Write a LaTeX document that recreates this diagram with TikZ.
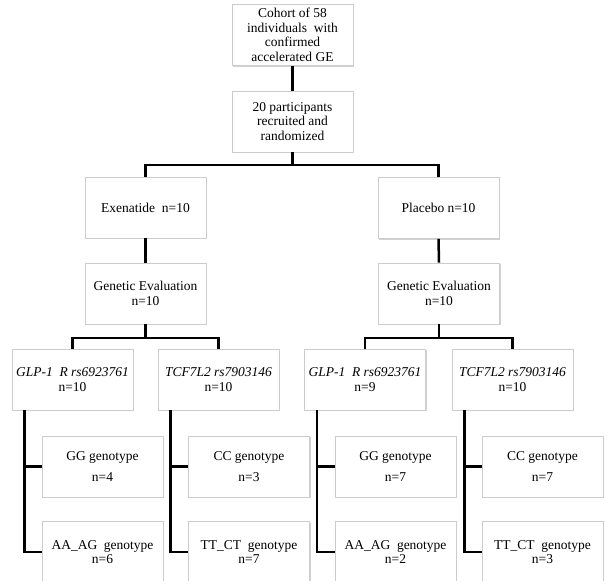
\documentclass[tikz,border=0pt]{standalone}
\usepackage{fontspec}
\setmainfont{Liberation Serif}
\usetikzlibrary{shadows}
\begin{document}
\begin{tikzpicture}[x=1pt,y=-1pt,
  box/.style={draw=gray!40, line width=0.8pt, fill=white, minimum width=121pt, minimum height=61pt, inner sep=1pt, align=center, font=\fontsize{13.5}{14.5}\selectfont, drop shadow={shadow xshift=1.3pt, shadow yshift=-1.3pt, fill=gray!70, opacity=0.5}},
  conn/.style={line width=2.5pt, black}]
\useasboundingbox (0,0) rectangle (613,588);
\fill[white] (0,0) rectangle (613,588);
\clip (0,0) rectangle (613,580.5);
% boxes
\node[box] (b1) at (292.5,35) {Cohort of 58\\individuals\ \ with\\confirmed\\accelerated GE};
\node[box] (b2) at (292.5,121.5) {20 participants\\recruited and\\randomized};
\node[box] (ex) at (145.5,207.5) {Exenatide\ \ n=10};
\node[box] (pl) at (438.5,208) {Placebo n=10};
\node[box] (gl) at (145.5,293.5) {Genetic Evaluation\\n=10};
\node[box] (gr) at (439,293.5) {Genetic Evaluation\\n=10};
\node[box] (glpL) at (72.5,379.5) {\itshape GLP-1\ \ R rs6923761\\n=10};
\node[box] (tcfL) at (218.5,379.5) {\itshape TCF7L2 rs7903146\\n=10};
\node[box] (glpR) at (365,379.5) {\itshape GLP-1\ \ R rs6923761\\n=9};
\node[box] (tcfR) at (512.5,379.5) {\itshape TCF7L2 rs7903146\\n=10};
\node[box] (ggL) at (102.5,466.5) {GG genotype\\[6pt]n=4};
\node[box] (ccL) at (249,466.5) {CC genotype\\[6pt]n=3};
\node[box] (ggR) at (395.5,466.5) {GG genotype\\[6pt]n=7};
\node[box] (ccR) at (542.5,466.5) {CC genotype\\[6pt]n=7};
\node[box] (aaL) at (102.5,552) {AA\_AG\ \ genotype\\n=6};
\node[box] (ttL) at (249,552) {TT\_CT\ \ genotype\\n=7};
\node[box] (aaR) at (395.5,552) {AA\_AG\ \ genotype\\n=2};
\node[box] (ttR) at (542.5,552) {TT\_CT\ \ genotype\\n=3};
% junctions
\coordinate (j1) at (292.5,165);
\coordinate (j2) at (145.5,338);
\coordinate (j3) at (439,338);
% connectors
\draw[conn] (b1.south) -- (b2.north);
\draw[conn] (b2.south) -- (j1);
\draw[conn] (ex.north) |- (j1) -| (pl.north);
\draw[conn] (ex.south) -- (gl.north);
\draw[conn] (pl.south) -- (gr.north);
\draw[conn] (gl.south) -- (j2);
\draw[conn] (glpL.north) |- (j2) -| (tcfL.north);
\draw[conn] (gr.south) -- (j3);
\draw[conn] (glpR.north) |- (j3) -| (tcfR.north);
\draw[conn] ([xshift=13pt]glpL.south west) |- (ggL.west);
\draw[conn] ([xshift=13pt]glpL.south west) |- (aaL.west);
\draw[conn] ([xshift=13pt]tcfL.south west) |- (ccL.west);
\draw[conn] ([xshift=13pt]tcfL.south west) |- (ttL.west);
\draw[conn] ([xshift=13pt]glpR.south west) |- (ggR.west);
\draw[conn] ([xshift=13pt]glpR.south west) |- (aaR.west);
\draw[conn] ([xshift=13pt]tcfR.south west) |- (ccR.west);
\draw[conn] ([xshift=13pt]tcfR.south west) |- (ttR.west);
\end{tikzpicture}
\end{document}
